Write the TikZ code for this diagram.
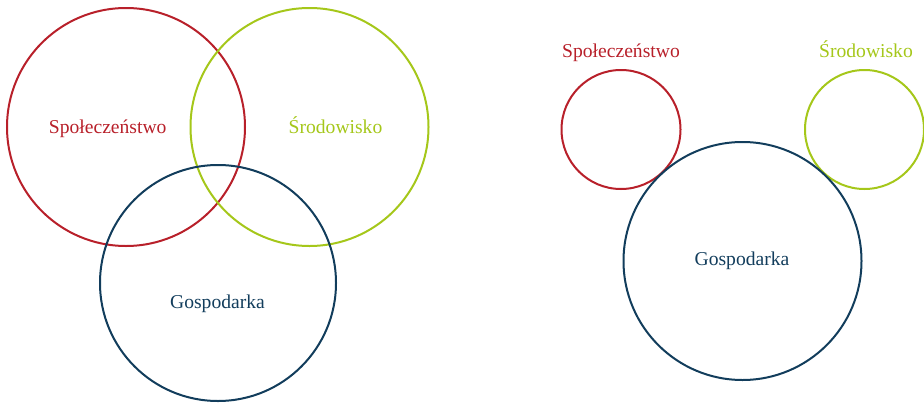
\documentclass[tikz,border=0pt]{standalone}
\usepackage{fontspec}
\setmainfont{Liberation Serif}
\definecolor{cred}{HTML}{B8202A}
\definecolor{cgreen}{HTML}{A5C71A}
\definecolor{cblue}{HTML}{123D5C}
\begin{document}
\begin{tikzpicture}[x=1pt,y=-1pt,
  ring/.style={circle,draw=#1,line width=2pt,inner sep=0pt,outer sep=0pt},
  lbl/.style={text=#1,anchor=base,inner sep=0pt,font=\fontsize{19.6}{22}\selectfont}]
\useasboundingbox (0,0) rectangle (924,402);
% left diagram
\node[ring=cred,minimum size=238pt] (lsoc) at (126,127) {};
\node[ring=cgreen,minimum size=238pt] (lenv) at (309.5,127) {};
\node[ring=cblue,minimum size=236pt] (leco) at (218,283) {};
\node[lbl=cred] (lsoct) at (107.7,133) {Społeczeństwo};
\node[lbl=cgreen] (lenvt) at (335.5,133) {Środowisko};
\node[lbl=cblue] (lecot) at (217.5,308) {Gospodarka};
% right diagram
\node[ring=cred,minimum size=119pt] (rsoc) at (621,129.5) {};
\node[ring=cgreen,minimum size=119pt] (renv) at (864.5,129.5) {};
\node[ring=cblue,minimum size=238pt] (reco) at (742.5,261) {};
\node[lbl=cred] (rsoct) at (621,57) {Społeczeństwo};
\node[lbl=cgreen] (renvt) at (866,57) {Środowisko};
\node[lbl=cblue] (recot) at (742,265) {Gospodarka};
\end{tikzpicture}
\end{document}
